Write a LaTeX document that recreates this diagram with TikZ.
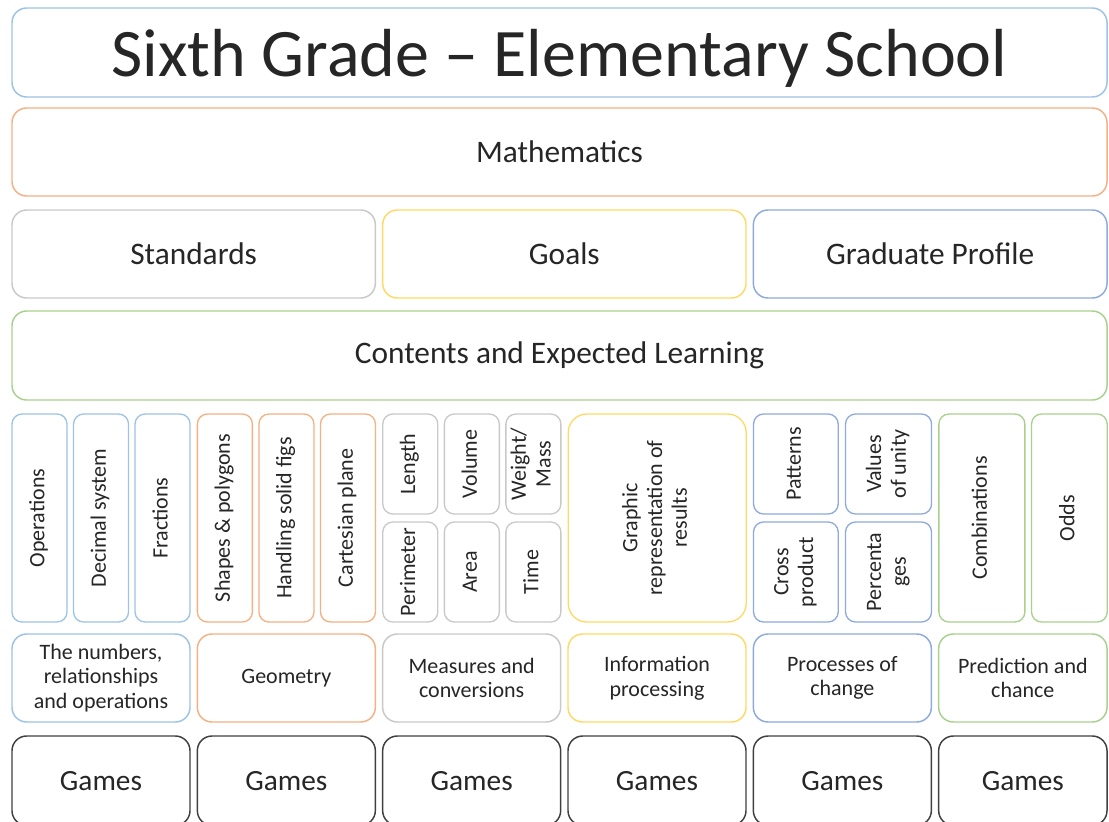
\documentclass[tikz,border=0pt]{standalone}
\usepackage{fontspec}
\setmainfont{Carlito}
\usepackage{graphicx}
\usepackage{xcolor}
\usetikzlibrary{positioning}
\definecolor{lblue}{HTML}{9DC3E6}
\definecolor{dblue}{HTML}{8FAADC}
\definecolor{orangeLine}{HTML}{F4B183}
\definecolor{greyLine}{HTML}{C9C9C9}
\definecolor{yellowLine}{HTML}{FFD966}
\definecolor{greenLine}{HTML}{A9D18E}
\definecolor{darkLine}{HTML}{404040}
\definecolor{txtGrey}{HTML}{262626}
\tikzset{
  baseBox/.style={
    rectangle,
    rounded corners=11pt,
    line width=1.1pt,
    fill=white,
    text=txtGrey,
    align=center,
    inner sep=0pt,
    outer sep=0pt
  },
  topBox/.style={
    baseBox,
    minimum width=821.25pt,
    minimum height=66.75pt,
    text depth=0pt,
    font=\fontsize{51}{60}\selectfont
  },
  midBox/.style={
    baseBox,
    minimum height=66pt,
    font=\fontsize{23.5}{28}\selectfont
  },
  colBox/.style={
    baseBox,
    rounded corners=7.5pt,
    line width=1pt,
    minimum width=41.25pt,
    minimum height=156pt,
    font=\fontsize{16.5}{18.5}\selectfont
  },
  halfBox/.style={
    colBox,
    minimum height=75pt
  },
  catBox/.style={
    baseBox,
    minimum width=133.5pt,
    minimum height=66pt,
    font=\fontsize{16.5}{18.5}\selectfont
  },
  gameBox/.style={
    baseBox,
    draw=darkLine,
    minimum width=133.5pt,
    minimum height=67pt,
    font=\fontsize{22}{26}\selectfont
  }
}
\newcommand{\vlab}[1]{\rotatebox{90}{\begin{tabular}{@{}c@{}}#1\end{tabular}}}

\begin{document}
\begin{tikzpicture}[x=1pt, y=-1pt]
    \useasboundingbox (0,0) rectangle (831.75,615.75);
    \clip (0,0) rectangle (831.75,615.75);

    % header rows
    \node[topBox, draw=lblue, anchor=north west] (title) at (9,6) {Sixth Grade – Elementary School};
    \node[midBox, draw=orangeLine, minimum width=821.25pt, below=8.25pt of title] (maths) {Mathematics};
    \node[midBox, draw=greyLine, minimum width=272.5pt, below=10.5pt of maths.south west, anchor=north west] (standards) {Standards};
    \node[midBox, draw=yellowLine, minimum width=272.5pt, right=5.5pt of standards] (goals) {Goals};
    \node[midBox, draw=dblue, minimum width=265.25pt, right=5.5pt of goals] (profile) {Graduate Profile};
    \node[midBox, draw=greenLine, minimum width=821.25pt, minimum height=66.75pt, below=9.75pt of standards.south west, anchor=north west] (contents) {Contents and Expected Learning};

    % contents
    \node[colBox, draw=lblue, below=10.5pt of contents.south west, anchor=north west] (ops) {\vlab{Operations}};
    \node[colBox, draw=lblue, right=4.9pt of ops] (decimal) {\vlab{Decimal system}};
    \node[colBox, draw=lblue, right=4.9pt of decimal] (fractions) {\vlab{Fractions}};
    \node[colBox, draw=orangeLine, right=5.5pt of fractions] (shapes) {\vlab{Shapes \& polygons}};
    \node[colBox, draw=orangeLine, right=4.9pt of shapes] (solids) {\vlab{Handling solid figs}};
    \node[colBox, draw=orangeLine, right=4.9pt of solids] (cartesian) {\vlab{Cartesian plane}};

    \node[halfBox, draw=greyLine, right=5.5pt of cartesian.north east, anchor=north west] (length) {\vlab{Length}};
    \node[halfBox, draw=greyLine, below=6pt of length] (perimeter) {\vlab{Perimeter}};
    \node[halfBox, draw=greyLine, right=4.9pt of length] (volume) {\vlab{Volume}};
    \node[halfBox, draw=greyLine, below=6pt of volume] (area) {\vlab{Area}};
    \node[halfBox, draw=greyLine, right=4.9pt of volume] (weight) {\vlab{Weight/\\Mass}};
    \node[halfBox, draw=greyLine, below=6pt of weight] (time) {\vlab{Time}};

    \node[colBox, draw=yellowLine, minimum width=133.5pt, rounded corners=14pt, right=5.5pt of weight.north east, anchor=north west] (graphic) {\vlab{Graphic\\representation of\\results}};

    \node[halfBox, draw=dblue, minimum width=63.5pt, right=5.5pt of graphic.north east, anchor=north west] (patterns) {\vlab{Patterns}};
    \node[halfBox, draw=dblue, minimum width=63.5pt, below=6pt of patterns] (cross) {\vlab{Cross\\product}};
    \node[halfBox, draw=dblue, minimum width=64.5pt, right=5.5pt of patterns] (unity) {\vlab{Values\\of unity}};
    \node[halfBox, draw=dblue, minimum width=64.5pt, below=6pt of unity] (percent) {\vlab{Percenta\\ges}};

    \node[colBox, draw=greenLine, minimum width=64.5pt, right=5.5pt of unity.north east, anchor=north west] (combos) {\vlab{Combinations}};
    \node[colBox, draw=greenLine, minimum width=56.75pt, right=5pt of combos] (odds) {\vlab{Odds}};

    % axes
    \node[catBox, draw=lblue, below=9pt of ops.south west, anchor=north west] (numbers) {The numbers,\\relationships\\and operations};
    \node[catBox, draw=orangeLine, right=5.5pt of numbers] (geometry) {Geometry};
    \node[catBox, draw=greyLine, right=5.5pt of geometry] (measures) {Measures and\\conversions};
    \node[catBox, draw=yellowLine, right=5.5pt of measures] (info) {Information\\processing};
    \node[catBox, draw=dblue, right=5.5pt of info] (change) {Processes of\\change};
    \node[catBox, draw=greenLine, minimum width=126.25pt, right=5.5pt of change] (chance) {Prediction and\\chance};

    % games
    \node[gameBox, below=10.5pt of numbers] (games1) {Games};
    \node[gameBox, below=10.5pt of geometry] (games2) {Games};
    \node[gameBox, below=10.5pt of measures] (games3) {Games};
    \node[gameBox, below=10.5pt of info] (games4) {Games};
    \node[gameBox, below=10.5pt of change] (games5) {Games};
    \node[gameBox, minimum width=126.25pt, below=10.5pt of chance] (games6) {Games};
\end{tikzpicture}
\end{document}
